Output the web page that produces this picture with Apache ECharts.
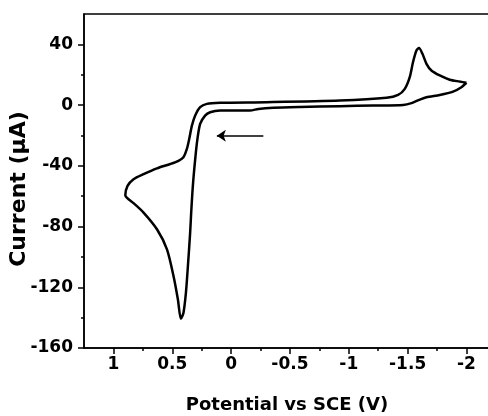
<!DOCTYPE html>
<html>
<head>
<meta charset="utf-8">
<script src="https://cdn.jsdelivr.net/npm/echarts@6/dist/echarts.min.js"></script>
<style>
html,body{margin:0;padding:0;background:#fff;}
#chart{width:488px;height:416px;}
</style>
</head>
<body>
<div id="chart"></div>
<script>
// Potential (V vs SCE) along the scan, in order
const potential = [
  -2.0, -1.957, -1.886, -1.773, -1.660, -1.603, -1.533, -1.462, -1.207, -0.924,
  -0.584, -0.359, -0.232, -0.161, 0.093, 0.178, 0.221, 0.263, 0.286, 0.305,
  0.325, 0.339, 0.348, 0.367, 0.384, 0.405, 0.427, 0.452, 0.489, 0.545,
  0.630, 0.744, 0.829, 0.882, 0.899,
  0.880, 0.829, 0.744, 0.630, 0.517, 0.447, 0.405, 0.376, 0.356, 0.333,
  0.305, 0.263, 0.206, 0.093, -0.303, -0.924, -1.321, -1.419, -1.476, -1.518,
  -1.546, -1.575, -1.597, -1.626, -1.660, -1.702, -1.773, -1.858, -1.942, -2.0
];
// Current (uA) along the scan, in order
const current = [
  14.7, 11.8, 8.9, 6.7, 5.2, 3.6, 1.3, 0.1, -0.3, -0.7,
  -1.2, -1.7, -2.5, -3.6, -3.6, -4.7, -6.9, -12.4, -22.3, -35.6,
  -53.2, -70.6, -84, -106, -123.7, -136.9, -140.8, -128.1, -112.7, -95,
  -81.8, -70.8, -64.6, -61.3, -59.4,
  -53.2, -48.8, -45.5, -41.7, -38.8, -36.7, -34.4, -28.9, -22.3, -13.5,
  -6.9, -1.4, 0.8, 1.5, 1.9, 3.0, 4.8, 6.7, 10.7, 18.4,
  28.4, 36.0, 37.6, 33.8, 27.2, 22.8, 19.5, 16.7, 15.5, 14.7
];
// Scan-direction arrow (tail, tip) in data units
const arrowE = [-0.274, 0.121];
const arrowI = [-20.2, -20.2];

const xMajorTicks = [1, 0.5, 0, -0.5, -1, -1.5, -2];
const xMinorTicks = [0.75, 0.25, -0.25, -0.75, -1.25, -1.75];
const yMajorTicks = [40, 0, -40, -80, -120, -160];
const yMinorTicks = [20, -20, -60, -100, -140];

const xTitle = 'Potential vs SCE (V)';
const yTitle = 'Current (\u03bcA)';

const FONT = 'DejaVu Sans';
const chart = echarts.init(document.getElementById('chart'), null, {renderer: 'canvas'});
const pts = potential.map((e, i) => [e, current[i]]);

const axisLineStyle = {color: '#000', width: 1.5};
const X_MIN = -2.2, X_MAX = 1.25, Y_MIN = -160, Y_MAX = 60;

chart.setOption({
  backgroundColor: '#fff',
  animation: false,
  grid: {left: 84, right: -2, top: 14, bottom: 68, containLabel: false, outerBoundsMode: 'none',
         show: true, borderColor: '#000', borderWidth: 1.5, backgroundColor: 'transparent'},
  xAxis: [
    {
      type: 'value', inverse: true, min: X_MIN, max: X_MAX, position: 'bottom',
      axisLine: {show: true, onZero: false, lineStyle: axisLineStyle},
      axisTick: {show: true, inside: false, length: 6, customValues: xMajorTicks, lineStyle: {color: '#000', width: 1.5}},
      axisLabel: {show: true, customValues: xMajorTicks, margin: 8, color: '#000', fontFamily: FONT, fontWeight: 'bold', fontSize: 17},
      splitLine: {show: false},
      name: xTitle, nameLocation: 'middle', nameGap: 48, nameMoveOverlap: false,
      nameTextStyle: {color: '#000', fontFamily: FONT, fontWeight: 'bold', fontSize: 18}
    },
    {
      type: 'value', inverse: true, min: X_MIN, max: X_MAX, position: 'bottom',
      axisLine: {show: false, onZero: false},
      axisTick: {show: true, inside: false, length: 3, customValues: xMinorTicks, lineStyle: {color: '#000', width: 1.5}},
      axisLabel: {show: false},
      splitLine: {show: false}
    }
  ],
  yAxis: [
    {
      type: 'value', min: Y_MIN, max: Y_MAX, position: 'left',
      axisLine: {show: true, onZero: false, lineStyle: axisLineStyle},
      axisTick: {show: true, inside: false, length: 6, customValues: yMajorTicks, lineStyle: {color: '#000', width: 1.5}},
      axisLabel: {show: true, customValues: yMajorTicks, margin: 11, color: '#000', fontFamily: FONT, fontWeight: 'bold', fontSize: 17},
      splitLine: {show: false},
      name: yTitle, nameLocation: 'middle', nameGap: 54, nameRotate: 90, nameMoveOverlap: false,
      nameTextStyle: {color: '#000', fontFamily: FONT, fontWeight: 'bold', fontSize: 22, padding: [0, 16, 0, 0]}
    },
    {
      type: 'value', min: Y_MIN, max: Y_MAX, position: 'left',
      axisLine: {show: false, onZero: false},
      axisTick: {show: true, inside: false, length: 3, customValues: yMinorTicks, lineStyle: {color: '#000', width: 1.5}},
      axisLabel: {show: false},
      splitLine: {show: false}
    }
  ],
  series: [
    {
      type: 'line', xAxisIndex: 0, yAxisIndex: 0,
      data: pts, showSymbol: false, symbol: 'none', smooth: 0.25,
      lineStyle: {color: '#000', width: 2.5},
      silent: true,
      markLine: {
        silent: true, animation: false,
        symbol: ['none', 'arrow'], symbolSize: 9,
        lineStyle: {color: '#000', width: 1.5, type: 'solid'},
        label: {show: false},
        data: [[{coord: [arrowE[0], arrowI[0]]}, {coord: [arrowE[1], arrowI[1]]}]]
      }
    }
  ]
});
</script>
</body>
</html>
